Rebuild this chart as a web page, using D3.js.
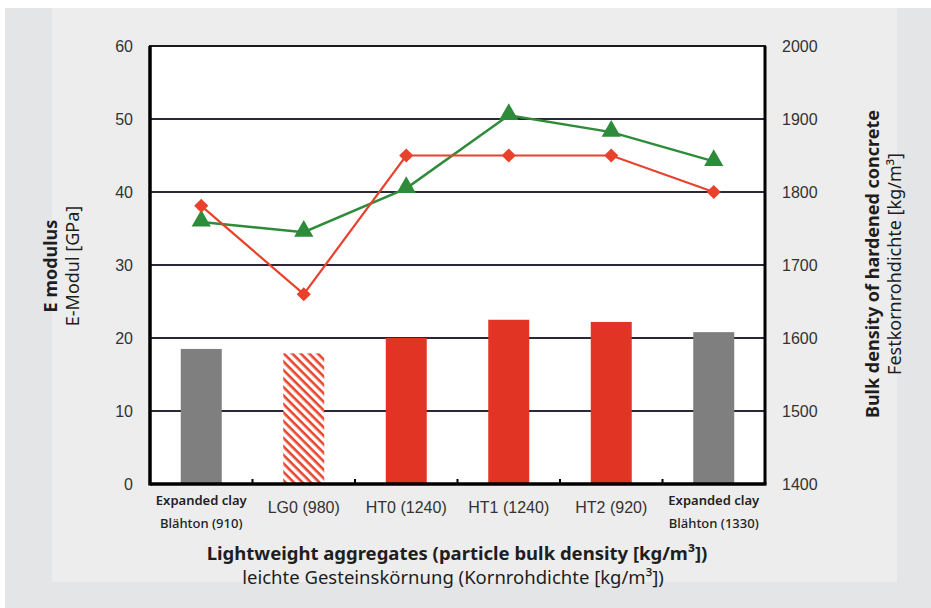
<!DOCTYPE html>
<html><head><meta charset="utf-8">
<script src="https://cdn.jsdelivr.net/npm/d3@7"></script>
<style>body{margin:0;background:#fff}svg{display:block}</style>
</head><body>
<script>
const categories = ["Expanded clay|Blähton (910)", "LG0 (980)", "HT0 (1240)", "HT1 (1240)", "HT2 (920)", "Expanded clay|Blähton (1330)"];
const barValues = [18.5, 17.9, 20.0, 22.5, 22.2, 20.8];
const barTypes = ["gray", "hatch", "red", "red", "red", "gray"];
const redSeries = [38.1, 26.0, 45.0, 45.0, 45.0, 40.0];
const greenSeries = [35.9, 34.5, 40.5, 50.5, 48.2, 44.2];
const leftTicks = [0, 10, 20, 30, 40, 50, 60];
const rightTicks = [1400, 1500, 1600, 1700, 1800, 1900, 2000];

const W = 931, H = 608;
const svg = d3.select("body").append("svg").attr("width", W).attr("height", H);

// backgrounds
svg.append("rect").attr("x", 0).attr("y", 0).attr("width", W).attr("height", H).attr("fill", "#fff");
svg.append("rect").attr("x", 5).attr("y", 8).attr("width", W - 5).attr("height", H - 8).attr("fill", "#e4e5e7");
svg.append("rect").attr("x", 52).attr("y", 8).attr("width", 897 - 52).attr("height", 582 - 8).attr("fill", "#ecedec");

const m = {l: 150, r: 765, t: 46, b: 484};
const x = d3.scaleBand().domain(d3.range(categories.length)).range([m.l, m.r]).paddingInner(0).paddingOuter(0);
const yL = d3.scaleLinear().domain([0, 60]).range([m.b, m.t]);
const yR = d3.scaleLinear().domain([1400, 2000]).range([m.b, m.t]);

const defs = svg.append("defs");
const pat = defs.append("pattern").attr("id", "hatch").attr("patternUnits", "userSpaceOnUse")
  .attr("width", 6).attr("height", 6).attr("patternTransform", "rotate(45)");
pat.append("rect").attr("width", 6).attr("height", 6).attr("fill", "#fff");
pat.append("rect").attr("x", 0).attr("y", 0).attr("width", 6).attr("height", 2.6).attr("fill", "#e8452f");

// plot background
svg.append("rect").attr("x", m.l).attr("y", m.t).attr("width", m.r - m.l).attr("height", m.b - m.t).attr("fill", "#fff");

// gridlines
svg.append("g").selectAll("line").data(leftTicks.filter(d => d > 0 && d < 60)).join("line")
  .attr("x1", m.l).attr("x2", m.r).attr("y1", d => yL(d)).attr("y2", d => yL(d))
  .attr("stroke", "#2a2838").attr("stroke-width", 1.8);

// bars
const bw = x.bandwidth() * 0.4;
svg.append("g").selectAll("rect").data(barValues).join("rect")
  .attr("x", (d, i) => x(i) + x.bandwidth() / 2 - bw / 2)
  .attr("y", d => yL(d)).attr("width", bw).attr("height", d => m.b - yL(d))
  .attr("fill", (d, i) => barTypes[i] === "gray" ? "#7f7f7f" : barTypes[i] === "red" ? "#e23424" : "url(#hatch)");

// frame
svg.append("rect").attr("x", m.l).attr("y", m.t).attr("width", m.r - m.l).attr("height", m.b - m.t)
  .attr("fill", "none").attr("stroke", "#1a1a1a").attr("stroke-width", 2);
svg.append("line").attr("x1", m.l).attr("x2", m.l).attr("y1", m.t).attr("y2", m.b + 1.5).attr("stroke", "#000").attr("stroke-width", 3.5);
svg.append("line").attr("x1", m.l).attr("x2", m.r + 1.5).attr("y1", m.b).attr("y2", m.b).attr("stroke", "#000").attr("stroke-width", 3.5);
svg.append("line").attr("x1", m.r).attr("x2", m.r).attr("y1", m.t).attr("y2", m.b).attr("stroke", "#000").attr("stroke-width", 3);

// x ticks (inward)
svg.append("g").selectAll("line").data(d3.range(1, categories.length)).join("line")
  .attr("x1", i => x(i)).attr("x2", i => x(i)).attr("y1", m.b).attr("y2", m.b - 5)
  .attr("stroke", "#000").attr("stroke-width", 2);

// axes labels via d3 axes
const axL = svg.append("g").attr("transform", `translate(${m.l},0)`)
  .call(d3.axisLeft(yL).tickValues(leftTicks).tickSize(0).tickPadding(17));
const axR = svg.append("g").attr("transform", `translate(${m.r},0)`)
  .call(d3.axisRight(yR).tickValues(rightTicks).tickSize(0).tickPadding(17).tickFormat(d3.format("d")));
[axL, axR].forEach(a => {
  a.select(".domain").remove();
  a.selectAll("text").attr("font-family", "Liberation Sans, Arial, sans-serif").attr("font-size", 16).attr("fill", "#333");
});

// lines
const line = d3.line().x((d, i) => x(i) + x.bandwidth() / 2).y(d => yL(d));
svg.append("path").datum(greenSeries).attr("d", line).attr("fill", "none").attr("stroke", "#2e8b3a").attr("stroke-width", 2.5);
svg.append("path").datum(redSeries).attr("d", line).attr("fill", "none").attr("stroke", "#e8412c").attr("stroke-width", 2.2);

svg.append("g").selectAll("path").data(greenSeries).join("path")
  .attr("d", d3.symbol().type(d3.symbolTriangle).size(160))
  .attr("transform", (d, i) => `translate(${x(i) + x.bandwidth() / 2},${yL(d) - 1})`)
  .attr("fill", "#2e8b3a");
svg.append("g").selectAll("path").data(redSeries).join("path")
  .attr("d", d3.symbol().type(d3.symbolSquare).size(100))
  .attr("transform", (d, i) => `translate(${x(i) + x.bandwidth() / 2},${yL(d)}) rotate(45)`)
  .attr("fill", "#e8412c");

// category labels
const cat = svg.append("g");
categories.forEach((c, i) => {
  const cx = x(i) + x.bandwidth() / 2;
  const parts = c.split("|");
  if (parts.length === 2) {
    cat.append("text").attr("x", cx).attr("y", 505).attr("text-anchor", "middle")
      .attr("font-family", "Noto Sans, sans-serif").attr("font-weight", 600).attr("font-size", 13).attr("fill", "#222")
      .text(parts[0]);
    cat.append("text").attr("x", cx).attr("y", 528).attr("text-anchor", "middle")
      .attr("font-family", "Noto Sans, sans-serif").attr("font-weight", 500).attr("font-size", 13).attr("fill", "#222")
      .text(parts[1]);
  } else {
    cat.append("text").attr("x", cx).attr("y", 513).attr("text-anchor", "middle")
      .attr("font-family", "Liberation Sans, Arial, sans-serif").attr("font-size", 16).attr("fill", "#333")
      .text(parts[0]);
  }
});

// axis titles
const tf = "Noto Sans, sans-serif";
svg.append("text").attr("x", 457).attr("y", 560).attr("text-anchor", "middle")
  .attr("font-family", tf).attr("font-weight", 700).attr("font-size", 18.5).attr("fill", "#1e1e1e")
  .text("Lightweight aggregates (particle bulk density [kg/m³])");
svg.append("text").attr("x", 453).attr("y", 584).attr("text-anchor", "middle")
  .attr("font-family", tf).attr("font-size", 18.5).attr("fill", "#1e1e1e")
  .text("leichte Gesteinskörnung (Kornrohdichte [kg/m³])");

svg.append("text").attr("transform", "translate(57,266) rotate(-90)").attr("text-anchor", "middle")
  .attr("font-family", tf).attr("font-weight", 700).attr("font-size", 18).attr("fill", "#1e1e1e").text("E modulus");
svg.append("text").attr("transform", "translate(79,266) rotate(-90)").attr("text-anchor", "middle")
  .attr("font-family", tf).attr("font-size", 18).attr("fill", "#1e1e1e").text("E-Modul [GPa]");

svg.append("text").attr("transform", "translate(879,264) rotate(-90)").attr("text-anchor", "middle")
  .attr("font-family", tf).attr("font-weight", 700).attr("font-size", 18).attr("fill", "#1e1e1e").text("Bulk density of hardened concrete");
svg.append("text").attr("transform", "translate(901,264) rotate(-90)").attr("text-anchor", "middle")
  .attr("font-family", tf).attr("font-size", 18).attr("fill", "#1e1e1e").text("Festkornrohdichte [kg/m³]");
</script>
</body></html>
